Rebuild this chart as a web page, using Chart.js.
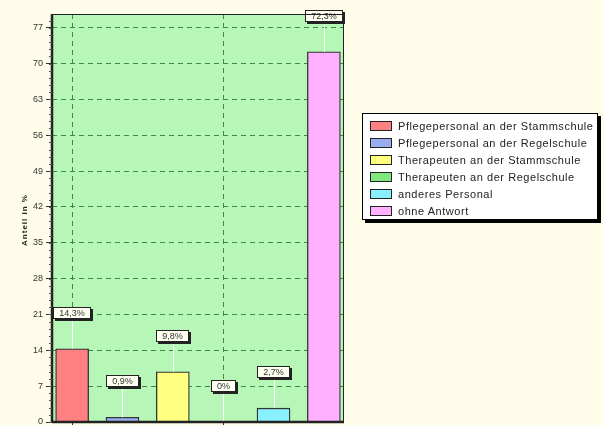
<!DOCTYPE html>
<html>
<head>
<meta charset="utf-8">
<script src="https://cdn.jsdelivr.net/npm/chart.js@4"></script>
<style>
  html, body { margin: 0; padding: 0; background: #FFFDE9; }
  #wrap { position: relative; width: 604px; height: 425px; overflow: hidden; }
  canvas { position: absolute; left: 0; top: 0; }
  #legend {
    position: absolute; left: 362px; top: 113px; width: 236px; height: 107px;
    background: #fff; border: 1px solid #000; box-shadow: 3px 3px 0 #000;
    font-family: "Liberation Sans", Arial, sans-serif; font-size: 11px; letter-spacing: 0.55px; color: #222;
    box-sizing: border-box; padding-top: 3px;
  }
  .row { display: flex; align-items: center; height: 17px; padding-left: 7px; }
  .sw { width: 22px; height: 10px; border: 1px solid #222; margin-right: 6px; box-sizing: border-box; flex: none; }
</style>
</head>
<body>
<div id="wrap">
<canvas id="c" width="604" height="425"></canvas>
<div id="legend"></div>
</div>
<script>
const categories = [
  "Pflegepersonal an der Stammschule",
  "Pflegepersonal an der Regelschule",
  "Therapeuten an der Stammschule",
  "Therapeuten an der Regelschule",
  "anderes Personal",
  "ohne Antwort"
];
const values = [14.3, 0.9, 9.8, 0, 2.7, 72.3];
const labels = ["14,3%", "0,9%", "9,8%", "0%", "2,7%", "72,3%"];
const colors = ["#FF8080", "#98AEF0", "#FFFF80", "#80E880", "#88F0FF", "#FFB0FF"];
const yTicks = [0, 7, 14, 21, 28, 35, 42, 49, 56, 63, 70, 77];
const yTitle = "Anteil in %";

const legend = document.getElementById('legend');
categories.forEach((c, i) => {
  const r = document.createElement('div'); r.className = 'row';
  const s = document.createElement('div'); s.className = 'sw'; s.style.background = colors[i];
  const t = document.createElement('span'); t.textContent = c;
  r.appendChild(s); r.appendChild(t); legend.appendChild(r);
});

const bgPlugin = {
  id: 'bg',
  beforeDraw(chart) {
    const {ctx, chartArea: a} = chart;
    ctx.save();
    ctx.fillStyle = '#B6F6B6';
    ctx.fillRect(a.left, a.top, a.right - a.left, a.bottom - a.top);
    ctx.restore();
  },
  afterDraw(chart) {
    const {ctx, chartArea: a} = chart;
    const y = chart.scales.y;
    ctx.save();
    ctx.strokeStyle = '#222';
    ctx.lineWidth = 1;
    ctx.strokeRect(a.left + 0.5, a.top + 0.5, a.right - a.left - 1, a.bottom - a.top);
    ctx.lineWidth = 2.5;
    ctx.beginPath(); ctx.moveTo(a.left, a.top); ctx.lineTo(a.left, a.bottom + 1); ctx.stroke();
    ctx.beginPath(); ctx.moveTo(a.left, a.bottom); ctx.lineTo(a.right, a.bottom); ctx.stroke();
    // minor ticks
    ctx.lineWidth = 1;
    ctx.strokeStyle = '#555';
    for (let k = 0; k <= 57; k++) {
      const v = k * 1.4;
      if (v > y.max) break;
      const py = Math.round(y.getPixelForValue(v)) + 0.5;
      ctx.beginPath(); ctx.moveTo(a.left - 3, py); ctx.lineTo(a.left, py); ctx.stroke();
    }
    // y title
    ctx.translate(25, (a.top + a.bottom) / 2 + 2);
    ctx.rotate(-Math.PI / 2);
    ctx.font = 'bold 8px "Liberation Sans", Arial, sans-serif';
    try { ctx.letterSpacing = '1px'; } catch (e) {}
    ctx.fillStyle = '#222';
    ctx.textAlign = 'center';
    ctx.textBaseline = 'middle';
    ctx.fillText(yTitle, 0, 0);
    ctx.restore();
  }
};

const labelPlugin = {
  id: 'vlabels',
  afterDatasetsDraw(chart) {
    const {ctx} = chart;
    const meta = chart.getDatasetMeta(0);
    ctx.save();
    ctx.font = '9px "Liberation Sans", Arial, sans-serif';
    meta.data.forEach((bar, i) => {
      const x = bar.x, top = bar.y;
      const ly = top - 36;
      ctx.strokeStyle = '#FFFFFF';
      ctx.lineWidth = 1;
      ctx.beginPath(); ctx.moveTo(Math.round(x) + 0.5, top); ctx.lineTo(Math.round(x) + 0.5, ly); ctx.stroke();
      const tw = ctx.measureText(labels[i]).width;
      const w = Math.max(Math.round(tw + 12), 22), h = 12;
      const bx = Math.round(x - w / 2), by = Math.round(ly - h / 2);
      ctx.fillStyle = '#222';
      ctx.fillRect(bx + 2, by + 2, w, h);
      ctx.fillStyle = '#FFFFF2';
      ctx.fillRect(bx, by, w, h);
      ctx.strokeStyle = '#222';
      ctx.strokeRect(bx + 0.5, by + 0.5, w - 1, h - 1);
      ctx.fillStyle = '#333';
      ctx.textAlign = 'center';
      ctx.textBaseline = 'middle';
      ctx.fillText(labels[i], bx + w / 2, by + h / 2 + 0.5);
    });
    ctx.restore();
  }
};

new Chart(document.getElementById('c'), {
  type: 'bar',
  data: {
    datasets: [{
      data: values.map((v, i) => ({x: i, y: v})),
      backgroundColor: colors,
      borderColor: '#333',
      borderWidth: 1.3,
      barThickness: 33,
      minBarLength: 0
    }]
  },
  options: {
    responsive: false,
    animation: false,
    devicePixelRatio: 1,
    layout: { autoPadding: false, padding: { left: 0, top: 14, right: 260, bottom: 0 } },
    plugins: { legend: { display: false }, tooltip: { enabled: false } },
    scales: {
      x: {
        type: 'linear',
        offset: false,
        min: -0.4, max: 5.4,
        afterBuildTicks(s) { s.ticks = [{value: 0}, {value: 3}]; },
        ticks: { display: false },
        grid: { offset: false, color: '#3F8A3F', lineWidth: 1, tickLength: 3, tickColor: '#333', tickBorderDash: [] },
        border: { display: false, dash: [5, 4] },
        afterFit(s) { s.height = 3; s.paddingLeft = 0; s.paddingRight = 0; s.paddingTop = 0; s.paddingBottom = 0; }
      },
      y: {
        min: 0, max: 79.7,
        afterBuildTicks(s) { s.ticks = yTicks.map(v => ({value: v})); },
        ticks: {
          color: '#333', padding: 3,
          font: { family: '"Liberation Sans", Arial, sans-serif', size: 9 }
        },
        grid: {
          color: (c) => c.tick && c.tick.value === 0 ? 'rgba(0,0,0,0)' : '#3F8A3F',
          tickColor: '#333', tickLength: 6, lineWidth: 1, tickBorderDash: []
        },
        border: { display: false, dash: [5, 4] },
        afterFit(s) { s.width = 52; s.paddingTop = 0; s.paddingBottom = 0; s.paddingLeft = 0; s.paddingRight = 0; }
      }
    }
  },
  plugins: [bgPlugin, labelPlugin]
});
</script>
</body>
</html>
